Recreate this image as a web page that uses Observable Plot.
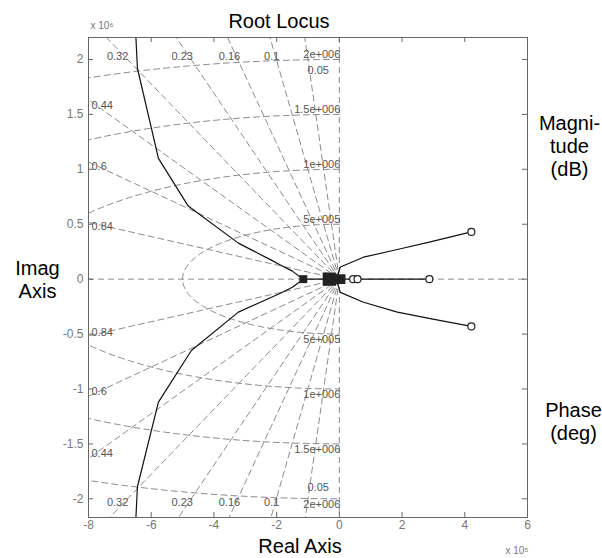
<!DOCTYPE html>
<html><head><meta charset="utf-8">
<script src="https://cdn.jsdelivr.net/npm/d3@7"></script>
<script src="https://cdn.jsdelivr.net/npm/@observablehq/plot@0.6"></script>
<style>body{margin:0;background:#fff;}</style>
</head><body><div id="chart"></div>
<script>
// ---- data ----
const xTicks = [-8e5, -6e5, -4e5, -2e5, 0, 2e5, 4e5, 6e5];
const yTicks = [-2e6, -1.5e6, -1e6, -0.5e6, 0, 0.5e6, 1e6, 1.5e6, 2e6];
const zetas = [0.05, 0.1, 0.16, 0.23, 0.32, 0.44, 0.6, 0.84];
const zetaLabels = ["0.05", "0.1", "0.16", "0.23", "0.32", "0.44", "0.6", "0.84"];
const wns = [5e5, 1e6, 1.5e6, 2e6];
const wnLabels = ["5e+005", "1e+006", "1.5e+006", "2e+006"];

const upperLeftX = [-1.15e5, -1.50e5, -1.88e5, -2.17e5, -3.22e5, -4.82e5, -5.77e5, -6.44e5, -6.50e5];
const upperLeftY = [0, 0.073e6, 0.128e6, 0.173e6, 0.328e6, 0.665e6, 1.10e6, 1.92e6, 2.27e6];
const lowerLeftX = [-1.15e5, -1.50e5, -1.88e5, -3.22e5, -4.72e5, -5.77e5, -6.44e5, -6.50e5];
const lowerLeftY = [0, -0.073e6, -0.128e6, -0.30e6, -0.65e6, -1.12e6, -1.89e6, -2.24e6];
const upperRightX = [-0.1e5, 0.03e5, 0.77e5, 1.85e5, 2.90e5, 4.21e5];
const upperRightY = [0, 0.11e6, 0.20e6, 0.27e6, 0.34e6, 0.43e6];
const lowerRightX = [-0.1e5, 0.03e5, 0.77e5, 1.85e5, 2.90e5, 4.21e5];
const lowerRightY = [0, -0.12e6, -0.21e6, -0.30e6, -0.36e6, -0.43e6];
const realAxisX = [-1.15e5, 2.87e5];

const poleSmallX = [-1.15e5];
const poleBigX = [-0.32e5];
const poleMidX = [0.04e5];
const zerosX = [0.44e5, 0.58e5, 2.87e5, 4.21e5, 4.21e5];
const zerosY = [0, 0, 0, 0.43e6, -0.43e6];

// ---- derived tables ----
const W = 602, H = 558, mL = 88, mR = 75, mT = 37, mB = 41;
const fw = W - mL - mR, fh = H - mT - mB;
const xMin = -8e5, yTopLab = 2.03e6;

const rays = [];
zetas.forEach((z, i) => {
  for (const s of [1, -1]) {
    rays.push({x: 0, y: 0, id: i + "_" + s});
    rays.push({x: -5e6 * z, y: s * 5e6 * Math.sqrt(1 - z * z), id: i + "_" + s});
  }
});
const circles = [];
wns.forEach((w, i) => {
  for (let a = 0; a <= 180; a += 2) {
    const t = a * Math.PI / 180;
    circles.push({x: -w * Math.sin(t), y: w * Math.cos(t), id: i});
  }
});
const toPts = (xs, ys, b) => xs.map((x, i) => ({x, y: ys[i], b}));
const branches = [
  ...toPts(upperLeftX, upperLeftY, "ul"),
  ...toPts(lowerLeftX, lowerLeftY, "ll"),
  ...toPts(upperRightX, upperRightY, "ur"),
  ...toPts(lowerRightX, lowerRightY, "lr"),
  ...toPts(realAxisX, realAxisX.map(() => 0), "ra")
];
const zeroPts = toPts(zerosX, zerosY, "z");

// damping labels
const zLabs = [];
zetas.forEach((z, i) => {
  const k = Math.sqrt(1 - z * z) / z;
  for (const s of [1, -1]) {
    if (z < 0.07) {
      zLabs.push({x: -1.9e6 / k, y: s * 1.9e6, t: zetaLabels[i], kind: "inner"});
    } else if (z < 0.34) {
      zLabs.push({x: -yTopLab / k, y: s * yTopLab, t: zetaLabels[i], kind: "edge"});
    } else {
      zLabs.push({x: xMin, y: s * (-xMin * 0.9875) * k, t: zetaLabels[i], kind: s > 0 ? "leftUp" : "leftDown"});
    }
  }
});
const wLabs = [];
wns.forEach((w, i) => {
  wLabs.push({x: 0, y: w, t: wnLabels[i], la: "bottom"});
  wLabs.push({x: 0, y: -w, t: wnLabels[i], la: "top"});
});

const gridStyle = {stroke: "#8c8c8c", strokeWidth: 1, strokeDasharray: "6,4", clip: true};
const labStyle = {fill: "#555", fontSize: 11};
const big = {fontSize: 20, lineHeight: 1.15, fill: "black", textAnchor: "middle", lineAnchor: "middle"};

const chart = Plot.plot({
  width: W, height: H,
  marginLeft: mL, marginRight: mR, marginTop: mT, marginBottom: mB,
  x: {domain: [-8e5, 6e5], axis: null},
  y: {domain: [-2.17e6, 2.2e6], axis: null},
  style: {fontFamily: "'Liberation Sans', Arial, sans-serif", background: "white", overflow: "hidden"},
  marks: [
    // sgrid
    Plot.line(rays, {x: "x", y: "y", z: "id", ...gridStyle}),
    Plot.line(circles, {x: "x", y: "y", z: "id", ...gridStyle}),
    Plot.ruleY([0], {...gridStyle}),
    Plot.ruleX([0], {...gridStyle}),
    // grid labels
    Plot.text(zLabs.filter(d => d.kind === "edge"), {x: "x", y: "y", text: "t", textAnchor: "end", dx: 4, ...labStyle}),
    Plot.text(zLabs.filter(d => d.kind === "inner"), {x: "x", y: "y", text: "t", textAnchor: "start", dx: -2, ...labStyle}),
    Plot.text(zLabs.filter(d => d.kind === "leftUp"), {x: "x", y: "y", text: "t", textAnchor: "start", dx: 3, dy: 3, ...labStyle}),
    Plot.text(zLabs.filter(d => d.kind === "leftDown"), {x: "x", y: "y", text: "t", textAnchor: "start", dx: 3, dy: -3, ...labStyle}),
    Plot.text(wLabs.filter(d => d.la === "bottom"), {x: "x", y: "y", text: "t", textAnchor: "end", lineAnchor: "bottom", dx: 1, dy: -1, ...labStyle}),
    Plot.text(wLabs.filter(d => d.la === "top"), {x: "x", y: "y", text: "t", textAnchor: "end", lineAnchor: "top", dx: 1, dy: 1, ...labStyle}),
    // locus
    Plot.line(branches, {x: "x", y: "y", z: "b", stroke: "#111", strokeWidth: 1.2, clip: true}),
    Plot.dot(poleSmallX, {x: d => d, y: 0, symbol: "square", r: 4.5, fill: "#222"}),
    Plot.dot(poleBigX, {x: d => d, y: 0, symbol: "square", r: 7.5, fill: "#222"}),
    Plot.dot(poleMidX, {x: d => d, y: 0, symbol: "square", r: 5.5, fill: "#222"}),
    Plot.dot(zeroPts, {x: "x", y: "y", r: 3.5, fill: "white", stroke: "#222", strokeWidth: 1.2}),
    // frame, ticks, axes
    Plot.frame({stroke: "#666"}),
    Plot.tickX(xTicks, {x: d => d, insetTop: fh - 5, stroke: "#666"}),
    Plot.tickX(xTicks, {x: d => d, insetBottom: fh - 5, stroke: "#666"}),
    Plot.tickY(yTicks, {y: d => d, insetRight: fw - 5, stroke: "#666"}),
    Plot.tickY(yTicks, {y: d => d, insetLeft: fw - 5, stroke: "#666"}),
    Plot.axisX(xTicks, {anchor: "bottom", tickSize: 0, tickPadding: 3, tickFormat: d => String(d / 1e5), fontSize: 12, color: "#777", label: null}),
    Plot.axisY(yTicks, {anchor: "left", tickSize: 0, tickPadding: 5, tickFormat: d => String(d / 1e6), fontSize: 12, color: "#777", label: null}),
    Plot.text(["x 10\u2076"], {text: d => d, frameAnchor: "top-left", textAnchor: "start", lineAnchor: "middle", dx: 2, dy: -12, fontSize: 10, fill: "#777"}),
    Plot.text(["x 10\u2075"], {text: d => d, frameAnchor: "bottom-right", textAnchor: "end", lineAnchor: "middle", dx: 1, dy: 33, fontSize: 10, fill: "#777"}),
    // titles
    Plot.text(["Root Locus"], {text: d => d, frameAnchor: "top", dx: -29, dy: -17, ...big}),
    Plot.text(["Real Axis"], {text: d => d, frameAnchor: "bottom", dx: -8, dy: 28, ...big}),
    Plot.text(["Imag\nAxis"], {text: d => d, frameAnchor: "left", dx: -51, dy: 2, ...big}),
    Plot.text(["Magni-\ntude\n(dB)"], {text: d => d, frameAnchor: "top-right", dx: 42, dy: 108, ...big}),
    Plot.text(["Phase\n(deg)"], {text: d => d, frameAnchor: "top-right", dx: 46, dy: 384, ...big})
  ]
});
document.getElementById("chart").appendChild(chart);
</script>
</body></html>
